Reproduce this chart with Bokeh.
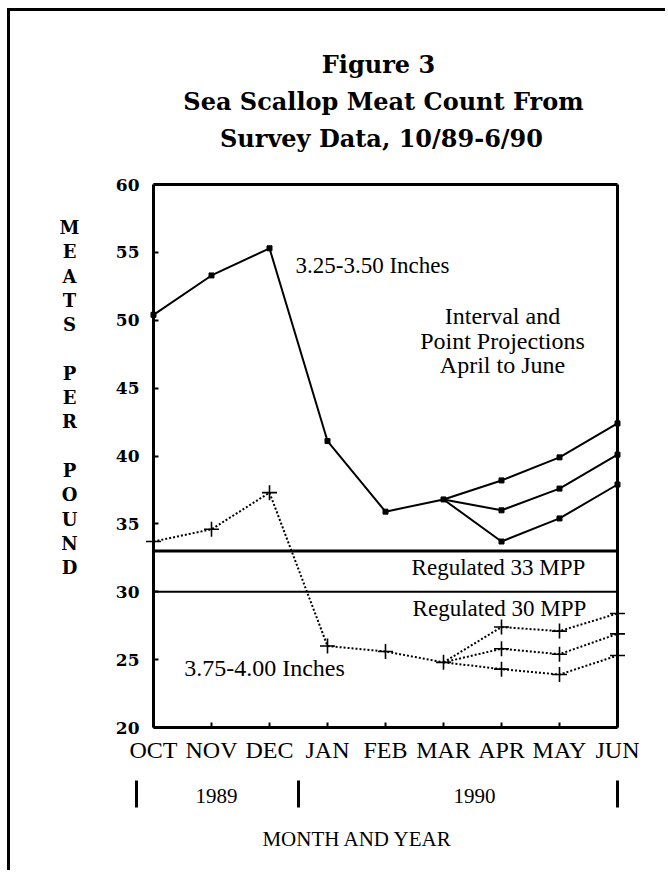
from bokeh.plotting import figure
from bokeh.models import Range1d, FixedTicker, Label
from bokeh.embed import file_html
from bokeh.resources import INLINE

# ---- data ----
months = ["OCT", "NOV", "DEC", "JAN", "FEB", "MAR", "APR", "MAY", "JUN"]
x_hist = [0, 1, 2, 3, 4, 5]
large_hist = [50.4, 53.3, 55.3, 41.1, 35.9, 36.8]      # 3.25-3.50 inches
small_hist = [33.7, 34.6, 37.3, 26.0, 25.6, 24.8]      # 3.75-4.00 inches
x_proj = [5, 6, 7, 8]
large_proj_hi = [36.8, 38.2, 39.9, 42.4]
large_proj_mid = [36.8, 36.0, 37.6, 40.1]
large_proj_lo = [36.8, 33.7, 35.4, 37.9]
small_proj_hi = [24.8, 27.4, 27.1, 28.4]
small_proj_mid = [24.8, 25.8, 25.4, 26.9]
small_proj_lo = [24.8, 24.3, 23.9, 25.3]
regulated = [33, 30]
regulated_labels = ["Regulated 33 MPP", "Regulated 30 MPP"]
y_ticks = [20, 25, 30, 35, 40, 45, 50, 55, 60]
years = ["1989", "1990"]
y_axis_letters = list("MEATS PER POUND")

SERIF = "Liberation Serif"
SERIF_B = "DejaVu Serif"

# plot box in page pixels
FX0, FX1, FY0, FY1 = 153, 617, 184, 727
XMIN, XMAX = 0, len(months) - 1
YMIN, YMAX = y_ticks[0], y_ticks[-1]
SX = (FX1 - FX0) / (XMAX - XMIN)
SY = (FY1 - FY0) / (YMAX - YMIN)

# canvas placement on the page
CX0, CY0, CX1, CY1 = 10, 11, 668, 873
W, H = CX1 - CX0, CY1 - CY0

def ux(px):
    return XMIN + (px - FX0) / SX

def vy(py):
    return YMIN + (FY1 - py) / SY

p = figure(width=W, height=H,
           min_border_left=0, min_border_right=0, min_border_top=0, min_border_bottom=0,
           x_range=Range1d(ux(CX0), ux(CX1)), y_range=Range1d(vy(CY1), vy(CY0)),
           output_backend="svg", toolbar_location=None,
           background_fill_color="white", border_fill_color="white")
p.styles = {"margin-left": "7px", "margin-top": "8px",
            "border-left": "3px solid black", "border-top": "3px solid black"}
p.outline_line_color = None
p.xgrid.visible = False
p.ygrid.visible = False

xa = p.xaxis[0]
xa.fixed_location = YMIN
xa.bounds = (XMIN, XMAX)
xa.ticker = FixedTicker(ticks=list(range(len(months))))
xa.major_label_overrides = {i: m for i, m in enumerate(months)}
xa.major_label_text_font = SERIF
xa.major_label_text_font_size = "24px"
xa.major_label_text_color = "black"
xa.major_label_standoff = 9
xa.axis_line_width = 3
xa.major_tick_in = 5
xa.major_tick_out = 0
xa.major_tick_line_width = 2
xa.minor_tick_line_color = None

ya = p.yaxis[0]
ya.fixed_location = XMIN
ya.bounds = (YMIN, YMAX)
ya.ticker = FixedTicker(ticks=y_ticks)
ya.major_label_text_font = SERIF_B
ya.major_label_text_font_style = "bold"
ya.major_label_text_font_size = "17px"
ya.major_label_text_color = "black"
ya.major_label_standoff = 14
ya.axis_line_width = 3
ya.major_tick_in = 5
ya.major_tick_out = 0
ya.major_tick_line_width = 2
ya.minor_tick_line_color = None

# top and right edges of the plot box
p.segment(x0=[XMIN, XMAX], y0=[YMAX, YMIN], x1=[XMAX, XMAX], y1=[YMAX, YMAX],
          line_color="black", line_width=3)

# regulated reference lines
p.segment(x0=[XMIN] * 2, x1=[XMAX] * 2, y0=regulated, y1=regulated,
          line_color="black", line_width=[3, 2])

# 3.25-3.50 inch series (solid)
p.line(x_hist, large_hist, line_color="black", line_width=2)
p.scatter(x_hist, large_hist, marker="square", size=5, color="black")
for ys in (large_proj_hi, large_proj_mid, large_proj_lo):
    p.line(x_proj, ys, line_color="black", line_width=2)
    p.scatter(x_proj[1:], ys[1:], marker="square", size=5, color="black")

# 3.75-4.00 inch series (dotted)
p.line(x_hist, small_hist, line_color="black", line_width=2, line_dash="2 2")
p.scatter(x_hist, small_hist, marker="cross", size=15, line_color="black", line_width=1.6)
for ys in (small_proj_hi, small_proj_mid, small_proj_lo):
    p.line(x_proj, ys, line_color="black", line_width=2, line_dash="2 2")
    p.scatter(x_proj[1:], ys[1:], marker="cross", size=15, line_color="black", line_width=1.6)

def lab(text, px, py, size, font=SERIF, bold=False, align="center"):
    p.add_layout(Label(x=ux(px), y=vy(py), text=text, text_font=font,
                       text_font_size=size, text_font_style="bold" if bold else "normal",
                       text_align=align, text_baseline="middle", text_color="black"))

# titles
lab("Figure 3", 378, 64, "24px", SERIF_B, True)
lab("Sea Scallop Meat Count From", 383, 101, "24px", SERIF_B, True)
lab("Survey Data, 10/89-6/90", 381, 138, "24px", SERIF_B, True)

# stacked y-axis title
for i, ch in enumerate(y_axis_letters):
    if ch != " ":
        lab(ch, 69, 227 + i * 24.3, "18px", SERIF_B, True)

# in-plot annotations
lab("3.25-3.50 Inches", 295, 265, "23px", align="left")
lab("Interval and", 502, 315, "24px")
lab("Point Projections", 502, 340, "24px")
lab("April to June", 502, 364, "24px")
lab(regulated_labels[0], 498, 567, "23px")
lab(regulated_labels[1], 499, 608, "23px")
lab("3.75-4.00 Inches", 264, 667, "24px")

# year row with separator bars
bars_x = [ux(136), ux(298), ux(617)]
p.segment(x0=bars_x, x1=bars_x, y0=[vy(807)] * 3, y1=[vy(780)] * 3,
          line_color="black", line_width=3)
lab(years[0], 216, 795, "21px")
lab(years[1], 474, 795, "21px")
lab("MONTH AND YEAR", 357, 838, "21px")

open("out.html", "w").write(file_html(p, INLINE))
